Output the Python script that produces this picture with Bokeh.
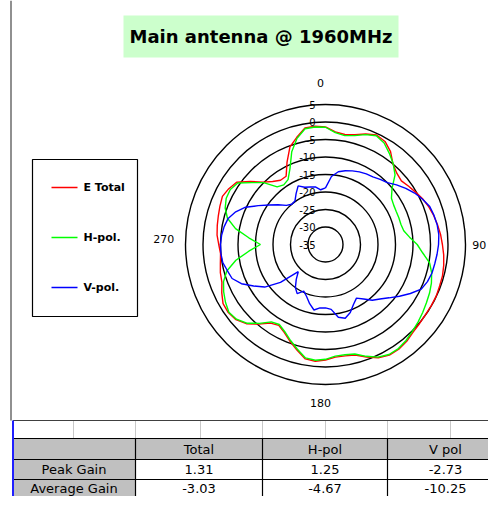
import numpy as np
from bokeh.plotting import figure
from bokeh.models import Range1d
from bokeh.embed import file_html
from bokeh.resources import INLINE
from bokeh.core.properties import value

# ---------------- data ----------------
TITLE = "Main antenna @ 1960MHz"
ANGLES = list(range(0, 360, 5))

E_TOTAL = [-1.4, -2.7, -3.1, -2.5, -1.4, -0.5, -1.0, -2.6, -5.0, -6.2,
           -6.7, -6.0, -5.2, -4.3, -3.6, -3.0, -2.5, -2.0, -1.6, -1.1,
           -0.7, -0.4, -0.3, -0.1, -0.1, -0.1, 0.1, 0.4, 1.1, 1.5,
           1.5, 0.7, -0.8, -2.3, -2.7, -2.7, -2.0, -1.5, -1.8, -3.7,
           -5.5, -7.2, -8.3, -7.6, -5.3, -3.0, -1.6, -1.1, -1.2, -2.3,
           -3.5, -3.9, -4.5, -4.9, -4.5, -3.9, -3.6, -3.3, -2.9, -2.5,
           -3.1, -4.0, -7.0, -9.8, -11.5, -12.6, -12.5, -9.0, -5.3, -3.3,
           -1.2, -1.1]

H_POL = [-1.5, -2.9, -3.4, -2.8, -1.6, -0.7, -1.5, -3.2, -4.9, -6.9,
         -10.2, -12.0, -12.5, -12.7, -12.7, -12.7, -12.3, -10.9, -8.8, -7.1,
         -4.8, -3.6, -2.8, -2.2, -1.7, -1.1, -0.5, 0.1, 0.8, 1.3,
         1.3, 0.5, -1.0, -2.6, -3.0, -3.0, -2.2, -1.8, -2.1, -4.0,
         -5.8, -7.5, -8.6, -8.0, -5.6, -3.2, -1.8, -1.3, -2.0, -2.9,
         -4.0, -5.8, -9.0, -13.0, -16.4, -13.0, -8.9, -6.0, -4.5, -3.7,
         -3.6, -4.4, -7.5, -10.0, -13.5, -14.2, -13.6, -11.0, -6.8, -3.6,
         -1.4, -1.3]

V_POL = [-18.8, -15.5, -13.9, -13.2, -12.6, -12.1, -11.7, -11.4, -10.7, -10.0,
         -8.5, -7.0, -5.6, -4.4, -3.3, -2.9, -2.6, -2.5, -2.7, -3.0,
         -3.3, -3.5, -4.0, -4.8, -7.0, -9.2, -11.3, -13.0, -14.2, -16.0,
         -17.3, -16.1, -14.3, -13.2, -13.9, -16.4, -16.9, -16.8, -16.0, -17.5,
         -19.2, -20.3, -18.8, -20.0, -22.0, -24.0, -18.2, -13.8, -11.3, -8.5,
         -6.6, -6.0, -5.2, -5.0, -5.0, -5.2, -5.6, -6.2, -7.7, -9.8,
         -12.8, -15.3, -17.3, -19.2, -20.0, -19.8, -18.2, -16.5, -17.6, -18.0,
         -18.3, -19.3]

SERIES_NAMES = ["E Total", "H-pol.", "V-pol."]
SERIES_COLORS = ["#FF0000", "#00FF00", "#0000FF"]

RING_VALUES = [5, 0, -5, -10, -15, -20, -25, -30]
RING_LABEL_VALUES = [5, 0, -5, -10, -15, -20, -25, -30, -35]
R_MIN = -35

ANGLE_TICKS = [0, 90, 180, 270]
ANGLE_TICK_LABELS = ["0", "90", "180", "270"]

TABLE_COLUMNS = ["Total", "H-pol", "V pol"]
TABLE_ROWS = ["Peak Gain", "Average Gain"]
PEAK_GAIN = ["1.31", "1.25", "-2.73"]
AVERAGE_GAIN = ["-3.03", "-4.67", "-10.25"]

# ---------------- layout ----------------
W, H = 488, 496
SCALE = 3.5            # px per dB
CX, CY = 325, 244      # polar centre in picture pixels
ORIGIN = 0


def px(page_x):
    return (page_x - CX) / SCALE


def py(page_y):
    return (CY - page_y) / SCALE


p = figure(width=W, height=H, output_backend="svg", toolbar_location=None,
           x_range=Range1d(px(ORIGIN), px(ORIGIN + W)),
           y_range=Range1d(py(ORIGIN + H), py(ORIGIN)),
           min_border=0, background_fill_color="white", border_fill_color="white")
p.axis.visible = False
p.grid.visible = False
p.outline_line_color = None

FONT = value("DejaVu Sans")

# left chart border
p.segment(x0=[px(10.5)], y0=[py(0)], x1=[px(10.5)], y1=[py(420)],
          line_color="#909090", line_width=2)

# title
p.quad(left=[px(123)], right=[px(398)], top=[py(15)], bottom=[py(57)],
       fill_color="#CCFFCC", line_color=None)
p.text(x=[px(260.5)], y=[py(36)], text=[TITLE], text_font=FONT,
       text_font_style="bold", text_font_size="18px",
       text_align="center", text_baseline="middle", text_color="black")

# rings
p.circle(x=[0] * len(RING_VALUES), y=[0] * len(RING_VALUES),
         radius=[v - R_MIN for v in RING_VALUES],
         fill_color=None, line_color="black", line_width=1.4)

# series
theta = np.radians(np.array(ANGLES + [ANGLES[0]], dtype=float))
for vals, col in zip([E_TOTAL, H_POL, V_POL], SERIES_COLORS):
    r = np.array(vals + [vals[0]], dtype=float) - R_MIN
    p.line(x=r * np.sin(theta), y=r * np.cos(theta), line_color=col, line_width=1.4)

# ring labels
p.text(x=[0] * len(RING_LABEL_VALUES),
       y=[v - R_MIN for v in RING_LABEL_VALUES],
       text=[str(v) for v in RING_LABEL_VALUES],
       x_offset=-10, text_font=FONT, text_font_size="10px",
       text_align="right", text_baseline="middle", text_color="black")

# angle labels
LABEL_R = 46.2
ta = np.radians(np.array(ANGLE_TICKS, dtype=float))
p.text(x=LABEL_R * np.sin(ta), y=LABEL_R * np.cos(ta), text=ANGLE_TICK_LABELS,
       x_offset=[-5, -8, -5, 0], y_offset=[0, 0, -3, -6],
       text_font=FONT, text_font_size="11px",
       text_align="center", text_baseline="middle", text_color="black")

# legend
p.quad(left=[px(32)], right=[px(137)], top=[py(159)], bottom=[py(316)],
       fill_color="white", line_color="black", line_width=1.2)
leg_y = [187, 237, 287]
for name, col, yy in zip(SERIES_NAMES, SERIES_COLORS, leg_y):
    p.segment(x0=[px(51)], y0=[py(yy)], x1=[px(77)], y1=[py(yy)],
              line_color=col, line_width=1.4)
    p.text(x=[px(83)], y=[py(yy)], text=[name], text_font=FONT,
           text_font_size="11px", text_font_style="bold", text_align="left",
           text_baseline="middle", text_color="black")

# data table
T_LEFT, T_RIGHT = 12.5, 504
ROW_Y = [420, 438, 459, 479, 496]
COL_X = [T_LEFT, 135, 262, 387, T_RIGHT]
GREY = "#C0C0C0"

p.quad(left=[px(T_LEFT)], right=[px(T_RIGHT)], top=[py(ROW_Y[1])], bottom=[py(ROW_Y[2])],
       fill_color=GREY, line_color=None)
p.quad(left=[px(T_LEFT)] * 2, right=[px(COL_X[1])] * 2,
       top=[py(ROW_Y[2]), py(ROW_Y[3])], bottom=[py(ROW_Y[3]), py(ROW_Y[4])],
       fill_color=GREY, line_color=None)

light_x = [73, 135, 200, 262, 325, 387, 450]
p.segment(x0=[px(v) for v in light_x], y0=[py(ROW_Y[0])] * len(light_x),
          x1=[px(v) for v in light_x], y1=[py(ROW_Y[1])] * len(light_x),
          line_color="#C8C8C8", line_width=1)
p.segment(x0=[px(T_LEFT)], y0=[py(ROW_Y[0])], x1=[px(T_RIGHT)], y1=[py(ROW_Y[0])],
          line_color="#404040", line_width=1.2)
p.segment(x0=[px(T_LEFT)] * 3, y0=[py(v) for v in ROW_Y[1:4]],
          x1=[px(T_RIGHT)] * 3, y1=[py(v) for v in ROW_Y[1:4]],
          line_color="black", line_width=1.2)
p.segment(x0=[px(v) for v in COL_X[1:4]], y0=[py(ROW_Y[1])] * 3,
          x1=[px(v) for v in COL_X[1:4]], y1=[py(ROW_Y[4])] * 3,
          line_color="black", line_width=1.2)
p.segment(x0=[px(T_LEFT)], y0=[py(ROW_Y[0])], x1=[px(T_LEFT)], y1=[py(ROW_Y[4])],
          line_color="#2020FF", line_width=2)

col_cx = [198.5, 324.5, 445]
row_cy = [449, 469, 487.5]

p.text(x=[px(v) for v in col_cx], y=[py(row_cy[0])] * 3, text=TABLE_COLUMNS,
       text_font=FONT, text_font_size="13px", text_align="center",
       text_baseline="middle", text_color="black")
p.text(x=[px(73.5)] * 2, y=[py(row_cy[1]), py(row_cy[2])], text=TABLE_ROWS,
       text_font=FONT, text_font_size="13px", text_align="center",
       text_baseline="middle", text_color="black")
p.text(x=[px(v) for v in col_cx], y=[py(row_cy[1])] * 3, text=PEAK_GAIN,
       text_font=FONT, text_font_size="13px", text_align="center",
       text_baseline="middle", text_color="black")
p.text(x=[px(v) for v in col_cx], y=[py(row_cy[2])] * 3, text=AVERAGE_GAIN,
       text_font=FONT, text_font_size="13px", text_align="center",
       text_baseline="middle", text_color="black")

open("out.html", "w").write(file_html(p, INLINE))
